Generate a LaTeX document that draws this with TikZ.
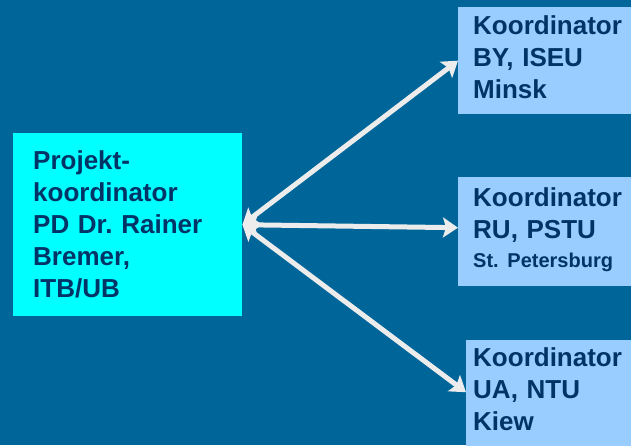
\documentclass[tikz,border=0pt]{standalone}
\usepackage{fontspec}
\setmainfont{Liberation Sans}
\frenchspacing
\usetikzlibrary{arrows.meta}
\usetikzlibrary{positioning}

\begin{document}
\begin{tikzpicture}[x=1pt,y=-1pt,
    koord/.style={anchor=north west,align=left,text=textcol,
      font=\bfseries\fontsize{26}{32}\selectfont,inner xsep=14pt,inner ysep=0pt},
    link/.style={{Stealth[length=15pt,width=20pt,inset=3pt]}-{Stealth[length=15pt,width=20pt,inset=3pt]},
      line width=5pt,draw=arrowcol}]
		    \definecolor{backcol}{RGB}{0,102,153}
		    \definecolor{projcol}{RGB}{0,255,255}
		    \definecolor{koordcol}{RGB}{153,204,255}
		    \definecolor{textcol}{RGB}{0,51,102}
		    \definecolor{arrowcol}{RGB}{236,236,236}
		    \useasboundingbox (0,0) rectangle (631,445);
		    \fill[backcol] (0,0) rectangle (631,445);

		    \node(proj) [koord,fill=projcol,text width=189pt,inner xsep=20pt,minimum height=183pt] at (13,133) {Projekt-\\koordinator\\PD Dr. Rainer\\Bremer,\\ITB/UB};
		    \node(by) [koord,fill=koordcol,text width=170pt,inner xsep=15pt,minimum height=107pt] at (458,7) {Koordinator\\BY, ISEU\\Minsk\vspace{7pt}};
		    \node(ru) [koord,fill=koordcol,text width=170pt,inner xsep=15pt,minimum height=109pt] at (458,177) {Koordinator\\RU, PSTU\\[-3pt]{\fontsize{20}{22}\selectfont St. Petersburg}\vspace{4pt}};
		    \node(ua) [koord,fill=koordcol,text width=170pt,inner xsep=7pt,minimum height=110pt] at (466,340) {Koordinator\\UA, NTU\\Kiew\vspace{12pt}};

		    \draw[link] (proj.east) -- (by.west);
		    \draw[link] (proj.east) -- ([yshift=4pt]ru.west);
		    \draw[link] (proj.east) -- ([yshift=3pt]ua.west);
\end{tikzpicture}
\end{document}
